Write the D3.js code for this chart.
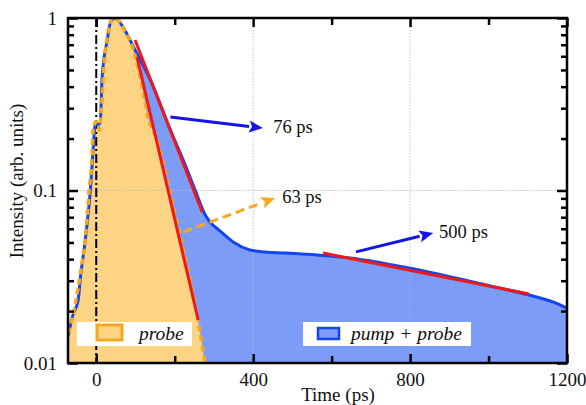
<!DOCTYPE html>
<html>
<head>
<meta charset="utf-8">
<script src="https://cdn.jsdelivr.net/npm/d3@7"></script>
<style>
  html, body { margin: 0; padding: 0; background: #fff; }
  svg text { font-family: "Liberation Serif", "Times New Roman", serif; fill: #111; }
</style>
</head>
<body>
<svg id="chart" width="586" height="405"></svg>
<script>
// Time-resolved intensity traces (time in ps, intensity normalised)
const probeTime = [-71, -54, -41, -28, -18, -10, -8, 0, 8, 13, 20, 31, 43, 56, 71, 94, 112, 132, 155, 181, 201, 227, 252, 265, 273, 280];
const probeIntensity = [0.0149, 0.0217, 0.0324, 0.053, 0.1007, 0.172, 0.23, 0.25, 0.224, 0.293, 0.534, 0.852, 1.0, 0.974, 0.86, 0.66, 0.455, 0.267, 0.196, 0.115, 0.0721, 0.0406, 0.0217, 0.0149, 0.0114, 0.00935];

const pumpTime = [-71, -61, -46, -41, -28, -15, -8, -3, 10, 15, 28, 36, 48, 69, 95, 138, 189, 227, 252, 278, 290, 316, 349, 392, 431, 482, 563, 647, 797, 994, 1103, 1164, 1200];
const pumpIntensity = [0.0145, 0.0185, 0.0232, 0.0303, 0.0516, 0.1007, 0.172, 0.24, 0.246, 0.455, 0.745, 0.936, 1.0, 0.88, 0.68, 0.437, 0.224, 0.1405, 0.1007, 0.0721, 0.0657, 0.0582, 0.0503, 0.0452, 0.044, 0.0434, 0.0423, 0.0406, 0.0355, 0.0283, 0.0248, 0.0226, 0.0208];

// Exponential fit segments: [t start, t end], [I start, I end]
const fitPumpFastT = [99, 270];
const fitPumpFastI = [0.746, 0.075];
const fitProbeT = [104, 260];
const fitProbeI = [0.594, 0.01775];
const fitPumpSlowT = [578, 1103];
const fitPumpSlowI = [0.0434, 0.0251];

// Decay-time annotations
const labels = ["76 ps", "63 ps", "500 ps"];
const arrowFromT = [189, 222, 662];
const arrowFromI = [0.267, 0.0574, 0.0441];
const arrowToT = [425, 456, 859];
const arrowToI = [0.230, 0.0905, 0.0567];
const labelT = [451, 474, 874];
const labelI = [0.216, 0.0847, 0.053];

const xTicksMajor = [0, 400, 800, 1200];
const xTicksMinor = [200, 600, 1000];
const yTicksMajor = [0.01, 0.1, 1];
const yTickLabels = ["0.01", "0.1", "1"];
const xTitle = "Time (ps)";
const yTitle = "Intensity (arb. units)";
const legendNames = ["probe", "pump + probe"];

const margin = { left: 68, top: 18, right: 19, bottom: 42 };
const W = 586, H = 405;
const w = W - margin.left - margin.right;
const h = H - margin.top - margin.bottom;

const orangeFill = "#fdd384";
const orangeLine = "#f7a81c";
const blueFill = "#7c9cf8";
const blueLine = "#1346ee";
const red = "#f01818";
const arrowBlue = "#1414e6";

const svg = d3.select("#chart");
const g = svg.append("g").attr("transform", `translate(${margin.left},${margin.top})`);

const x = d3.scaleLinear().domain([-72, 1200]).range([0, w]);
const y = d3.scaleLog().domain([0.01, 1]).range([h, 0]);

g.append("clipPath").attr("id", "plotClip")
  .append("rect").attr("x", 0).attr("y", 0).attr("width", w).attr("height", h);

const plot = g.append("g").attr("clip-path", "url(#plotClip)");

const pumpData = pumpTime.map((t, i) => [t, pumpIntensity[i]]);
const probeData = probeTime.map((t, i) => [t, probeIntensity[i]]);

const area = d3.area().x(d => x(d[0])).y0(h).y1(d => y(d[1])).curve(d3.curveMonotoneX);
const line = d3.line().x(d => x(d[0])).y(d => y(d[1])).curve(d3.curveMonotoneX);

// filled regions
plot.append("path").datum(pumpData).attr("d", area).attr("fill", blueFill);
plot.append("path").datum(probeData).attr("d", area).attr("fill", orangeFill);

// dotted grid
const grid = plot.append("g").attr("stroke", "#b8b8b8").attr("stroke-width", 0.8).attr("stroke-dasharray", "1.5,1.5");
[400, 800].forEach(t => grid.append("line").attr("x1", x(t)).attr("x2", x(t)).attr("y1", 0).attr("y2", h));
grid.append("line").attr("x1", 0).attr("x2", w).attr("y1", y(0.1)).attr("y2", y(0.1));

// time zero marker
plot.append("line").attr("x1", x(0)).attr("x2", x(0)).attr("y1", 0).attr("y2", h)
  .attr("stroke", "#000").attr("stroke-width", 2).attr("stroke-dasharray", "9,3,2,3");

// outlines
plot.append("path").datum(pumpData).attr("d", line)
  .attr("fill", "none").attr("stroke", blueLine).attr("stroke-width", 3);
plot.append("path").datum(probeData).attr("d", line)
  .attr("fill", "none").attr("stroke", orangeLine).attr("stroke-width", 3.5).attr("stroke-dasharray", "6,4");

// fit lines
[[fitPumpFastT, fitPumpFastI], [fitProbeT, fitProbeI], [fitPumpSlowT, fitPumpSlowI]].forEach(([ts, is]) => {
  plot.append("line")
    .attr("x1", x(ts[0])).attr("y1", y(is[0]))
    .attr("x2", x(ts[1])).attr("y2", y(is[1]))
    .attr("stroke", red).attr("stroke-width", 3);
});

// annotation arrows
const arrowColors = [arrowBlue, orangeLine, arrowBlue];
const arrowDash = [null, "9,5", null];
labels.forEach((lab, i) => {
  const x1 = x(arrowFromT[i]), y1 = y(arrowFromI[i]);
  const x2 = x(arrowToT[i]), y2 = y(arrowToI[i]);
  const ang = Math.atan2(y2 - y1, x2 - x1);
  const L = 14, Wd = 6;
  const bx = x2 - L * Math.cos(ang), by = y2 - L * Math.sin(ang);
  g.append("line").attr("x1", x1).attr("y1", y1).attr("x2", bx).attr("y2", by)
    .attr("stroke", arrowColors[i]).attr("stroke-width", 3)
    .attr("stroke-dasharray", arrowDash[i]);
  const px = -Math.sin(ang), py = Math.cos(ang);
  g.append("polygon")
    .attr("points", [[x2, y2], [bx + px * Wd, by + py * Wd], [bx + 3 * Math.cos(ang), by + 3 * Math.sin(ang)], [bx - px * Wd, by - py * Wd]].map(p => p.join(",")).join(" "))
    .attr("fill", arrowColors[i]);
  g.append("text").attr("x", x(labelT[i])).attr("y", y(labelI[i]))
    .attr("font-size", 18.5).text(lab);
});

// legend boxes
const legend = [
  { x0: 77, y0: 322, w: 115, h: 24, sx: 97, sy: 325, sw: 25, sh: 15, fill: orangeFill, stroke: orangeLine, sw2: 3, tx: 139, name: legendNames[0] },
  { x0: 303, y0: 322, w: 168, h: 24, sx: 318, sy: 328, sw: 21, sh: 11, fill: blueFill, stroke: blueLine, sw2: 2.5, tx: 351, name: legendNames[1] }
];
legend.forEach(l => {
  svg.append("rect").attr("x", l.x0).attr("y", l.y0).attr("width", l.w).attr("height", l.h).attr("fill", "#fff");
  svg.append("rect").attr("x", l.sx).attr("y", l.sy).attr("width", l.sw).attr("height", l.sh)
    .attr("fill", l.fill).attr("stroke", l.stroke).attr("stroke-width", l.sw2);
  svg.append("text").attr("x", l.tx).attr("y", 340).attr("font-size", 19.5).attr("font-style", "italic").text(l.name);
});

// axes
const styleAxis = sel => {
  sel.select(".domain").remove();
  sel.selectAll("line").attr("stroke", "#000").attr("stroke-width", 2.5);
  sel.selectAll("text").attr("font-size", 19).attr("fill", "#111")
    .attr("font-family", "Liberation Serif, Times New Roman, serif");
};

g.append("g").attr("transform", `translate(0,${h})`)
  .call(d3.axisBottom(x).tickValues(xTicksMajor).tickSize(-9).tickPadding(10).tickFormat(d3.format("d")))
  .call(styleAxis);
g.append("g").attr("transform", `translate(0,${h})`)
  .call(d3.axisBottom(x).tickValues(xTicksMinor).tickSize(-7).tickFormat(""))
  .call(styleAxis);
g.append("g")
  .call(d3.axisTop(x).tickValues(xTicksMajor).tickSize(-9).tickFormat(""))
  .call(styleAxis);
g.append("g")
  .call(d3.axisTop(x).tickValues(xTicksMinor).tickSize(-7).tickFormat(""))
  .call(styleAxis);

const yMinor = [];
[0.01, 0.1].forEach(d => { for (let k = 2; k <= 9; k++) yMinor.push(d * k); });

g.append("g")
  .call(d3.axisLeft(y).tickValues(yTicksMajor).tickSize(-10).tickPadding(11).tickFormat((d, i) => yTickLabels[i]))
  .call(styleAxis);
g.append("g")
  .call(d3.axisLeft(y).tickValues(yMinor).tickSize(-6).tickFormat(""))
  .call(styleAxis);
g.append("g").attr("transform", `translate(${w},0)`)
  .call(d3.axisRight(y).tickValues(yTicksMajor).tickSize(-10).tickFormat(""))
  .call(styleAxis);
g.append("g").attr("transform", `translate(${w},0)`)
  .call(d3.axisRight(y).tickValues(yMinor).tickSize(-6).tickFormat(""))
  .call(styleAxis);

// frame
g.append("rect").attr("x", 0).attr("y", 0).attr("width", w).attr("height", h)
  .attr("fill", "none").attr("stroke", "#000").attr("stroke-width", 2.5);

// axis titles
svg.append("text").attr("x", 338).attr("y", 401).attr("text-anchor", "middle")
  .attr("font-size", 19).text(xTitle);
svg.append("text").attr("transform", "translate(23,181) rotate(-90)").attr("text-anchor", "middle")
  .attr("font-size", 19).text(yTitle);
</script>
</body>
</html>
